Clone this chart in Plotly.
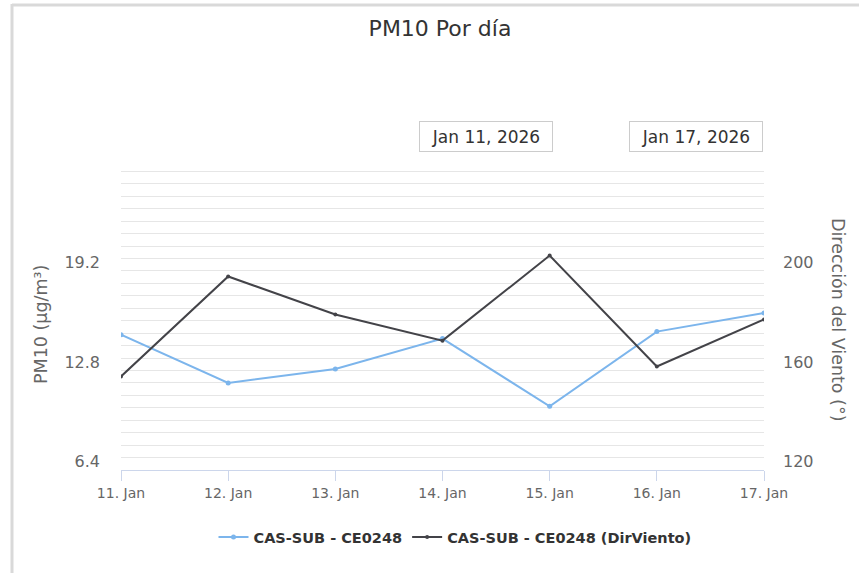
import plotly.graph_objects as go

categories = ["11. Jan", "12. Jan", "13. Jan", "14. Jan", "15. Jan", "16. Jan", "17. Jan"]
pm10_values = [14.3, 11.2, 12.1, 14.05, 9.7, 14.5, 15.7]
wind_dir_values = [152.6, 192.8, 177.5, 167.0, 201.2, 156.6, 175.5]
series_names = ["CAS-SUB - CE0248", "CAS-SUB - CE0248 (DirViento)"]
date_range_labels = ["Jan 11, 2026", "Jan 17, 2026"]

W, H = 859, 573
L, R, T, B = 121, 764, 170, 470
pw, ph = R - L, B - T

def px(x):
    return (x - L) / pw

def py(y):
    return (B - y) / ph

FONT = "DejaVu Sans"

fig = go.Figure()
fig.add_trace(go.Scatter(
    x=categories, y=pm10_values, name=series_names[0], mode="lines+markers",
    line=dict(color="#7cb5ec", width=2), marker=dict(size=5, color="#7cb5ec"),
    yaxis="y"))
fig.add_trace(go.Scatter(
    x=categories, y=wind_dir_values, name=series_names[1], mode="lines+markers",
    line=dict(color="#434348", width=2), marker=dict(size=4, color="#434348"),
    yaxis="y2"))

fig.update_layout(
    width=W, height=H,
    margin=dict(l=L, r=W - R, t=T, b=H - B),
    paper_bgcolor="white", plot_bgcolor="white",
    font=dict(family=FONT, color="#666666"),
    showlegend=True,
    legend=dict(orientation="h", x=px(455), y=py(537), xanchor="center", yanchor="middle",
                font=dict(size=14.5, color="#333333", family=FONT, weight="bold"),
                itemwidth=30, bgcolor="rgba(0,0,0,0)"),
    xaxis=dict(type="category", range=[0, 6], showgrid=False, zeroline=False,
               showline=True, linecolor="#ccd6eb", linewidth=1,
               ticks="outside", ticklen=10, tickcolor="#ccd6eb",
               tickfont=dict(size=14, color="#666666")),
    yaxis=dict(range=[5.6, 5.6 + 300 / 15.55], tick0=0, dtick=6.4, tickformat=".1f",
               showgrid=True, gridcolor="#e6e6e6", gridwidth=1, zeroline=False,
               showline=False, ticks="", ticklabelstandoff=20, ticklabelshift=4,
               minor=dict(dtick=0.8, tick0=0, showgrid=True, gridcolor="#e6e6e6", gridwidth=1),
               tickfont=dict(size=16, color="#666666")),
    yaxis2=dict(range=[115, 115 + 300 / 2.4875], tick0=0, dtick=40, overlaying="y", side="right",
                showgrid=False, zeroline=False, showline=False, ticks="",
                ticklabelstandoff=18, ticklabelshift=4,
                tickfont=dict(size=16, color="#666666")),
    title=dict(text="PM10 Por día", x=px(440), xref="paper", xanchor="center",
               y=1 - 28 / H, yref="container", yanchor="middle",
               font=dict(size=22, color="#333333", family=FONT)),
)

# axis titles
fig.add_annotation(text="PM10 (μg/m³)", x=px(41), y=py(325), xref="paper", yref="paper",
                   showarrow=False, textangle=-90, xanchor="center", yanchor="middle",
                   font=dict(size=17.5, color="#666666", family=FONT))
fig.add_annotation(text="Dirección del Viento (°)", x=px(838), y=py(320), xref="paper", yref="paper",
                   showarrow=False, textangle=90, xanchor="center", yanchor="middle",
                   font=dict(size=17.5, color="#666666", family=FONT))

# date range input boxes
for label, cx in zip(date_range_labels, [486, 695.5]):
    fig.add_annotation(text=label, x=px(cx), y=py(136.5), xref="paper", yref="paper",
                       showarrow=False, xanchor="center", yanchor="middle",
                       width=126, height=23, borderpad=3, borderwidth=1, bordercolor="#cccccc",
                       bgcolor="white", font=dict(size=17, color="#333333", family=FONT))

# outer frame lines (top and left)
fig.add_shape(type="line", xref="paper", yref="paper", x0=px(12), x1=px(W + 5), y0=py(5), y1=py(5),
              line=dict(color="#d9d9d9", width=3))
fig.add_shape(type="line", xref="paper", yref="paper", x0=px(12), x1=px(12), y0=py(4), y1=py(H + 5),
              line=dict(color="#d9d9d9", width=3))

fig.write_html("out.html", config={"displayModeBar": False},
               post_script="document.body.style.margin='0';document.body.style.overflow='hidden';")
